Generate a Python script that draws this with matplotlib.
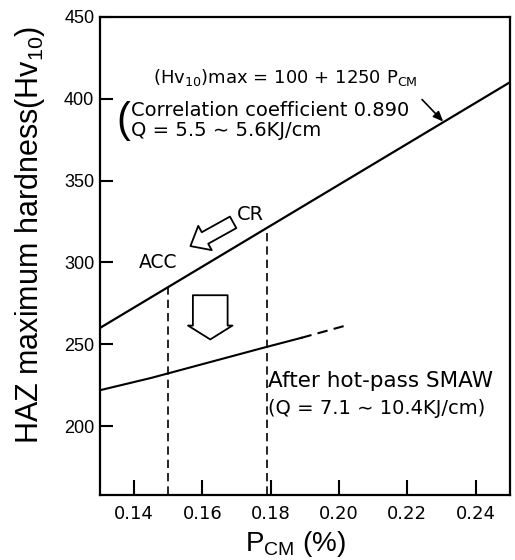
import matplotlib
matplotlib.use("Agg")
import matplotlib.pyplot as plt

# Data
upper_x = [0.13, 0.25]
upper_y = [260, 410]          # (Hv10)max = 100 + 1250 Pcm
lower_x = [0.13, 0.145, 0.178, 0.189]
lower_y = [222, 229.5, 248, 254]
lower_ext_x = [0.189, 0.202]  # dashed extension
lower_ext_y = [254, 261.5]
vline_x = [0.15, 0.179]       # ACC, CR
vline_top = [285, 321]

xticks = [0.14, 0.16, 0.18, 0.20, 0.22, 0.24]
yticks = [200, 250, 300, 350, 400, 450]

plt.rcParams['font.family'] = ['DejaVu Sans']
plt.rcParams['mathtext.default'] = 'regular'

fig = plt.figure(figsize=(5.15, 5.6), dpi=100)
ax = fig.add_axes([0.194, 0.116, 0.796, 0.854])

ax.plot(upper_x, upper_y, color="black", lw=1.6)
ax.plot(lower_x, lower_y, color="black", lw=1.5)
ax.plot(lower_ext_x, lower_ext_y, color="black", lw=1.5, linestyle=(0, (5, 3)))
for x, top in zip(vline_x, vline_top):
    ax.plot([x, x], [150, top], color="black", lw=1.2, linestyle=(0, (5, 3)))

# hollow arrows
ax.annotate("", xy=(0.1565, 310), xytext=(0.1690, 324.5),
            arrowprops=dict(arrowstyle="simple,head_width=2.0,head_length=1.2,tail_width=0.95",
                            fc="white", ec="black", lw=1.3, shrinkA=0, shrinkB=0,
                            mutation_scale=10))
ax.annotate("", xy=(0.1623, 253), xytext=(0.1623, 280),
            arrowprops=dict(arrowstyle="simple,head_width=3.2,head_length=1.0,tail_width=2.5",
                            fc="white", ec="black", lw=1.3, shrinkA=0, shrinkB=0,
                            mutation_scale=10))
# thin arrow to the line
ax.annotate("", xy=(0.2305, 386), xytext=(0.2243, 399.5),
            arrowprops=dict(arrowstyle="-|>,head_width=0.25,head_length=0.6",
                            color="black", lw=1.2, shrinkA=0, shrinkB=0))

ax.text(0.1455, 413, "(Hv$_{10}$)max = 100 + 1250 P$_{CM}$", fontsize=13, va="center")
ax.text(0.1347, 386.5, "(", fontsize=30, va="center", family="Liberation Sans")
ax.text(0.1390, 393, "Correlation coefficient 0.890", fontsize=14, va="center")
ax.text(0.1390, 380.5, "Q = 5.5 ∼ 5.6KJ/cm", fontsize=14, va="center")
ax.text(0.1702, 329, "CR", fontsize=14, va="center")
ax.text(0.1415, 300, "ACC", fontsize=13.5, va="center")
ax.text(0.1793, 227.7, "After hot-pass SMAW", fontsize=15.5, va="center")
ax.text(0.1793, 210.8, "(Q = 7.1 ∼ 10.4KJ/cm)", fontsize=14, va="center")

ax.set_xlim(0.13, 0.25)
ax.set_ylim(158, 450)
ax.set_xticks(xticks)
ax.set_xticklabels([f"{v:.2f}" for v in xticks])
ax.set_yticks(yticks)
ax.tick_params(direction="in", width=1.5)
ax.tick_params(axis="x", length=11, labelsize=13, pad=7)
ax.tick_params(axis="y", length=9, labelsize=13, pad=4)
for lab in ax.get_yticklabels():
    lab.set_family("Liberation Sans")
for s in ax.spines.values():
    s.set_linewidth(1.6)

ax.set_xlabel("P$_{CM}$ (%)", fontsize=20, family="Liberation Sans")
ax.set_ylabel("HAZ maximum hardness(Hv$_{10}$)", fontsize=22, family="Liberation Sans")
ax.xaxis.set_label_coords(0.476, -0.07)
ax.yaxis.set_label_coords(-0.13, 0.544)

fig.savefig("out.png", dpi=100)
